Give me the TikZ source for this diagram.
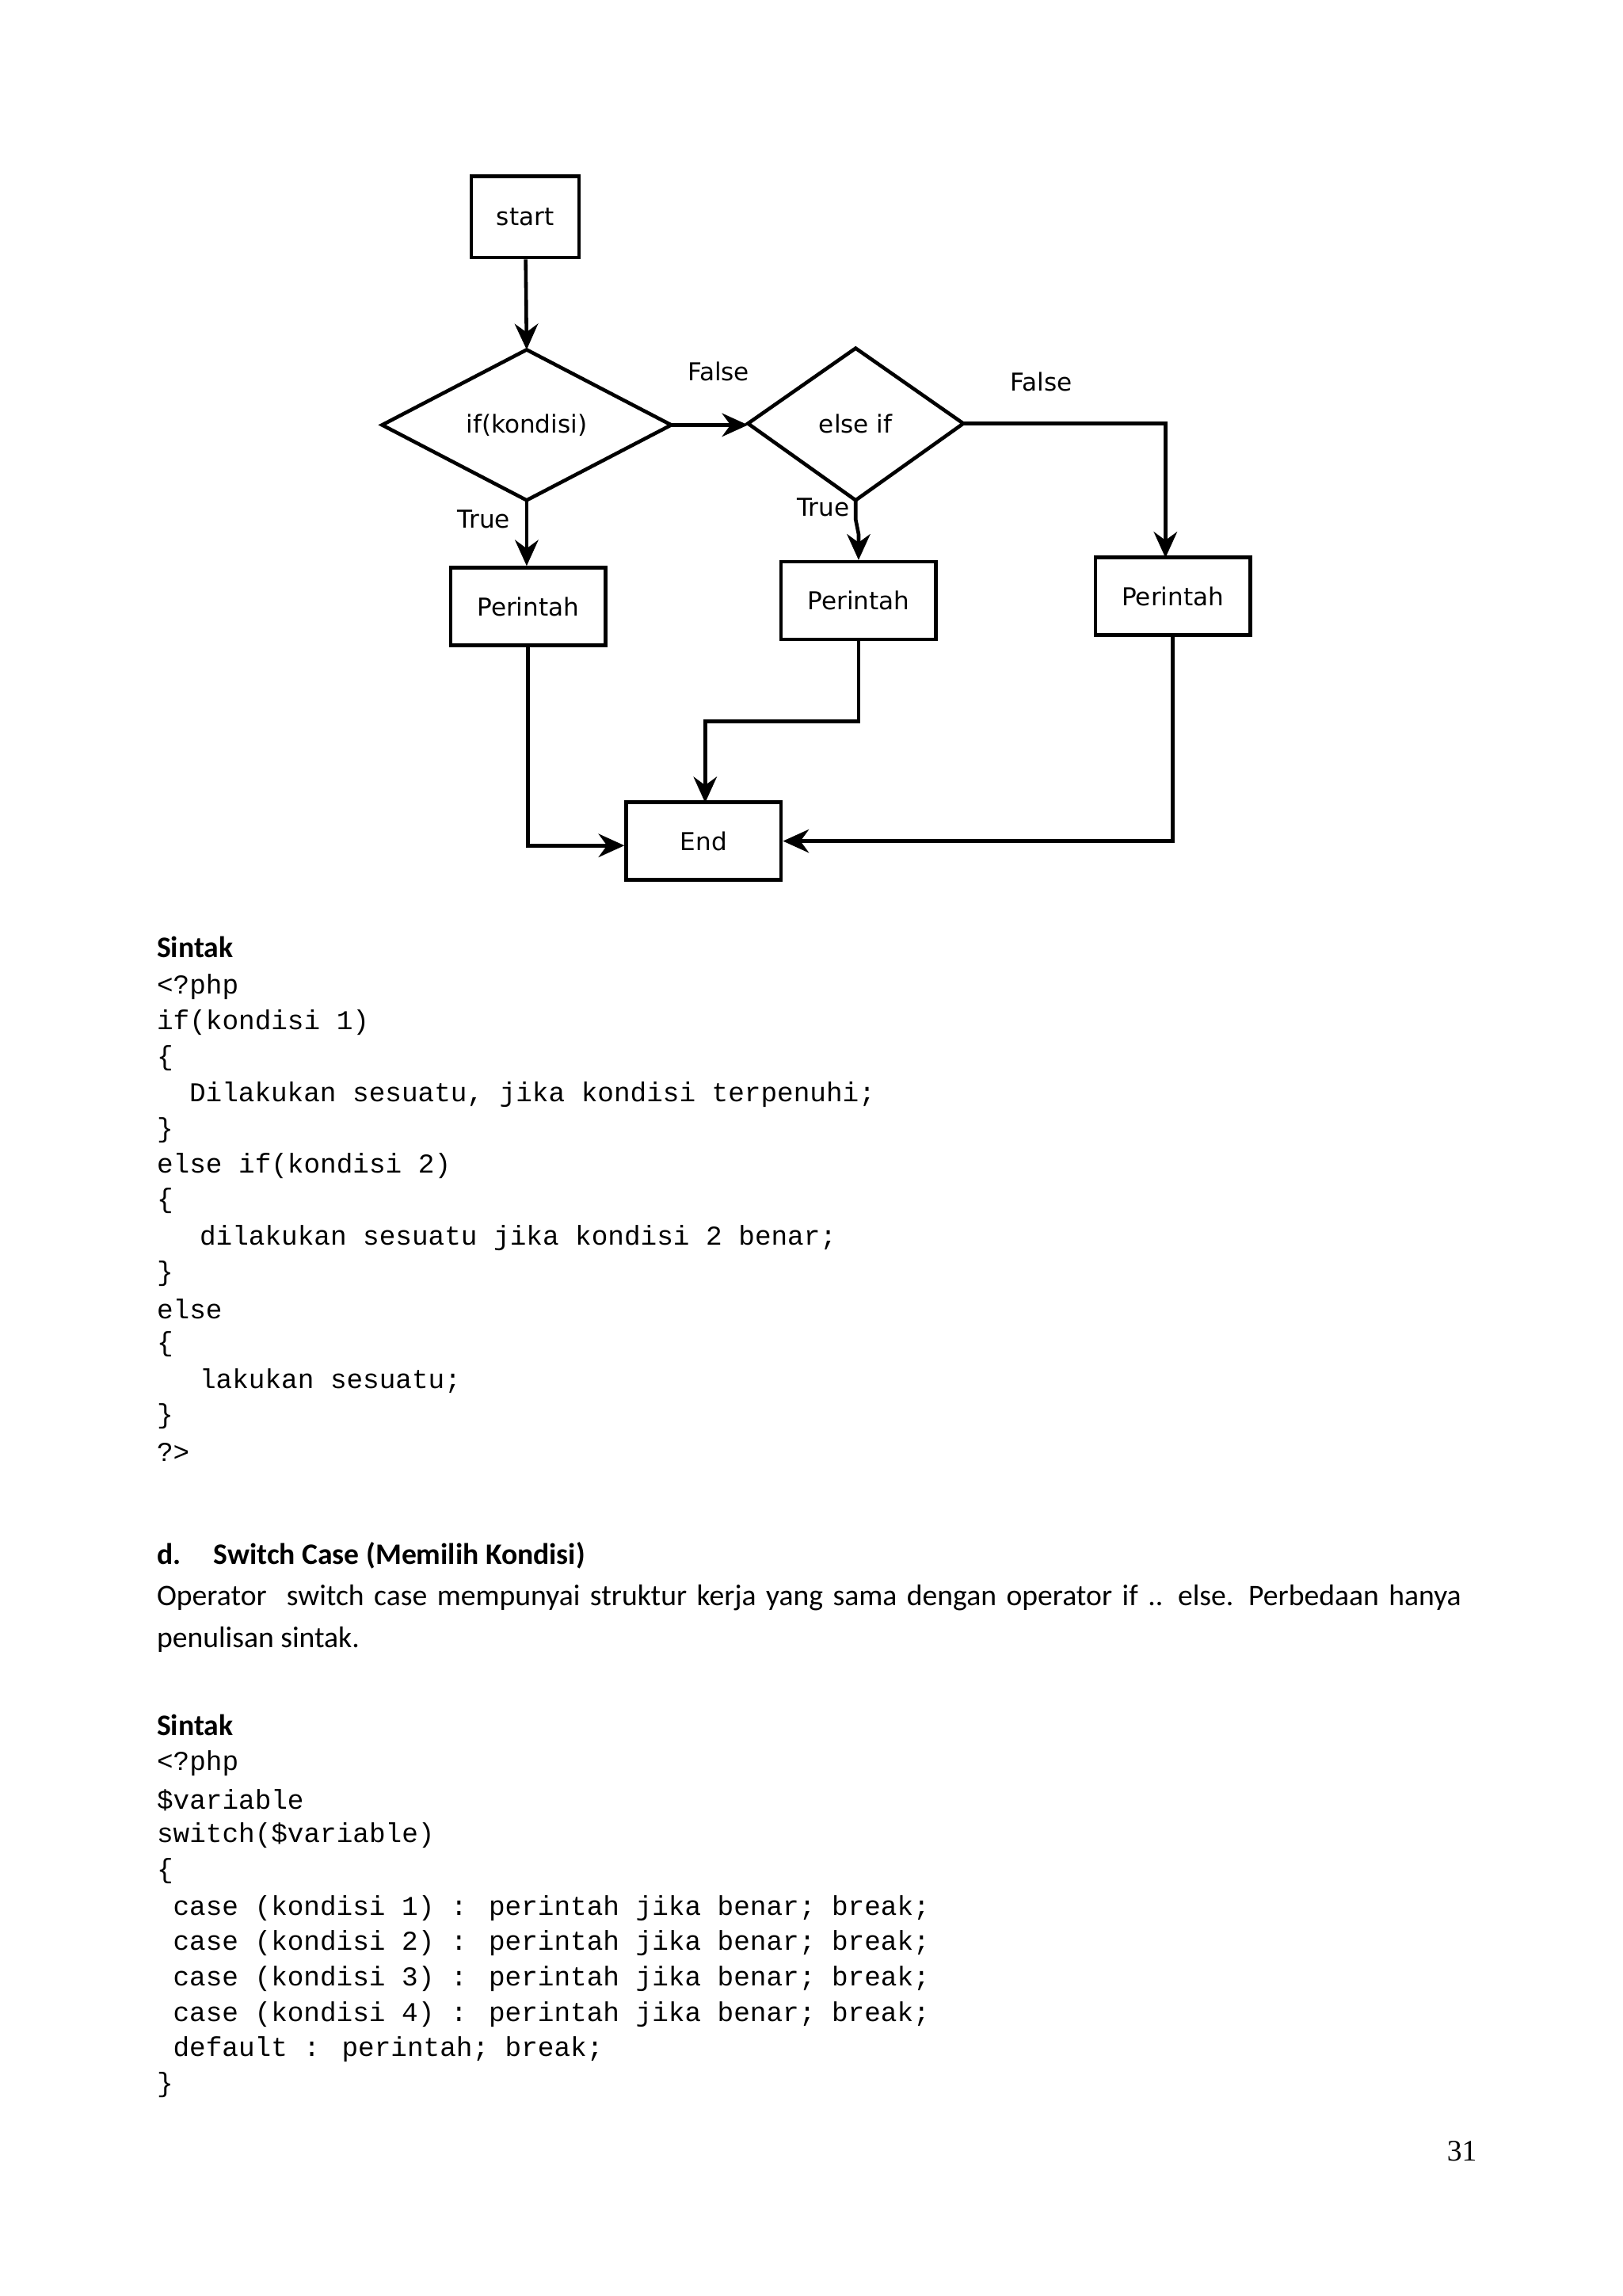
\documentclass[tikz,border=0pt]{standalone}
\usepackage{fontspec}
\setmainfont{Carlito}
\newfontfamily\flowfont{DejaVu Sans}
\newfontfamily\codefont{Liberation Mono}
\newfontfamily\numfont{Liberation Serif}
\usetikzlibrary{arrows.meta}
\begin{document}
\begin{tikzpicture}[x=0.02cm,y=-0.02cm,
  box/.style={draw,line width=1.4pt,minimum width=2.1cm,minimum height=1.05cm,font=\flowfont\fontsize{9.5}{11}\selectfont,inner sep=0},
  dia/.style={draw,line width=1.4pt,font=\flowfont\fontsize{9.5}{11}\selectfont},
  conn/.style={line width=1.4pt,-{Stealth[length=10pt,width=9pt]}},
  lbl/.style={font=\flowfont\fontsize{9.5}{11}\selectfont},
  code/.style={anchor=west,inner sep=0,font=\codefont\fontsize{10.5}{12}\selectfont},
  head/.style={anchor=west,inner sep=0,font=\bfseries\fontsize{11.5}{14}\selectfont},
  body/.style={anchor=west,inner sep=0,font=\fontsize{11.5}{14}\selectfont}]
\useasboundingbox (0,0) rectangle (1100,1556);
\node[box,minimum width=1.46cm,minimum height=1.1cm] (start) at (356,147) {start};
\draw[line width=1.4pt] (259,288) -- (357,237) -- (455,288) -- (357,339) -- cycle;
\node[lbl] (if) at (357,288) {if(kondisi)};
\coordinate (ifT) at (357,237); \coordinate (ifR) at (455,288); \coordinate (ifB) at (357,339);
\draw[line width=1.4pt] (507,287) -- (580,236) -- (653,287) -- (580,339) -- cycle;
\node[lbl] (ei) at (580,287) {else if};
\coordinate (eiL) at (507,288); \coordinate (eiR) at (653,287); \coordinate (eiB) at (580,339);
\node[box] (p1) at (358,411) {Perintah};
\node[box] (p2) at (582,407) {Perintah};
\node[box] (p3) at (795,404) {Perintah};
\node[box] (end) at (477,570) {End};
\node[lbl] (f1) at (487,252) {False};
\node[lbl] (f2) at (706,259) {False};
\node[lbl] (t1) at (328,352) {True};
\node[lbl] (t2) at (558,344) {True};
\draw[conn] (start) -- (ifT);
\draw[conn] (ifR) -- (eiL);
\draw[conn] (eiR) -- (790,287) -- (790,378);
\draw[conn] (ifB) -- (p1.north -| ifB);
\draw[conn] (eiB) -- (580,352) -- (582,362) -- (p2.north);
\draw[conn] (p1.south) -- (358,573) -- (end.west |- 0,573);
\draw[conn] (p2.south) -- (582,489) -- (478,489) -- (478,544);
\draw[conn] (p3.south) -- (795,570) -- (end.east);
\node[head] (s1) at (106,642) {Sintak};
\foreach \y/\x/\t [count=\i] in {669/106/{<?php},693/106/{if(kondisi 1)},717/106/{\{},742/128/{Dilakukan sesuatu, jika kondisi terpenuhi;},766/106/{\}},790/106/{else if(kondisi 2)},814/106/{\{},839/135/{dilakukan sesuatu jika kondisi 2 benar;},863/106/{\}},887/106/{else},911/106/{\{},936/135/{lakukan sesuatu;},960/106/{\}},984/106/{?>}}
  \node[code] (a\i) at (\x,\y) {\t};
\node[head] (d) at (106,1054) {d.\hspace{1.1em}Switch Case (Memilih Kondisi)};
\node[body,text width=17.94cm] (p) at (106,1083) {\makebox[17.94cm][s]{Operator \ switch case mempunyai struktur kerja yang sama dengan operator if .. else. Perbedaan hanya}};
\node[body] (p2b) at (106,1111) {penulisan sintak.};
\node[head] (s2) at (106,1169) {Sintak};
\foreach \y/\x/\t [count=\i] in {1195/106/{<?php},1220/106/{\$variable},1244/106/{switch(\$variable)},1268/106/{\{},1293/117/{case (kondisi 1) : perintah jika benar; break;},1317/117/{case (kondisi 2) : perintah jika benar; break;},1341/117/{case (kondisi 3) : perintah jika benar; break;},1365/117/{case (kondisi 4) : perintah jika benar; break;},1389/117/{default : perintah; break;},1413/106/{\}}}
  \node[code] (b\i) at (\x,\y) {\t};
\node[font=\numfont\fontsize{11.5}{14}\selectfont] (num) at (991,1458) {31};
\end{tikzpicture}
\end{document}
